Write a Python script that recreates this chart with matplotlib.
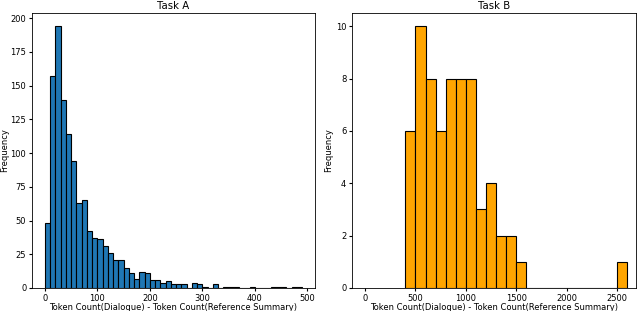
import numpy as np
import matplotlib.pyplot as plt

# Task A: counts per 10-token bin, 0..490
a_edges = np.arange(0, 500, 10)
a_counts = [48, 157, 194, 139, 114, 94, 63, 65, 42, 37,
            36, 31, 26, 21, 21, 15, 11, 7, 12, 11,
            6, 6, 4, 5, 3, 3, 3, 0, 4, 3,
            1, 0, 3, 0, 1, 1, 1, 0, 0, 1,
            0, 0, 0, 1, 1, 1, 0, 1, 1]

# Task B: counts per 100-token bin, 400..2600
b_edges = np.arange(400, 2700, 100)
b_counts = [6, 10, 8, 6, 8, 8, 8, 3, 4, 2, 2, 1,
            0, 0, 0, 0, 0, 0, 0, 0, 0, 1]

xlabel = 'Token Count(Dialogue) - Token Count(Reference Summary)'

plt.rcParams['font.size'] = 6.05
plt.rcParams['xtick.major.size'] = 2.5
plt.rcParams['ytick.major.size'] = 2.5
plt.rcParams['xtick.major.pad'] = 1.8
plt.rcParams['ytick.major.pad'] = 1.6

fig = plt.figure(figsize=(6.4, 3.11), dpi=100)
ax1 = fig.add_axes([0.05, 0.074, 0.442, 0.884])
ax2 = fig.add_axes([0.55, 0.074, 0.444, 0.884])

ax1.hist(a_edges[:-1], bins=a_edges, weights=a_counts,
         color='#1f77b4', edgecolor='black', linewidth=0.8)
ax1.set_title('Task A', pad=3)
ax1.set_xlabel(xlabel, labelpad=0)
ax1.set_ylabel('Frequency')
ax1.yaxis.set_label_coords(-0.08, 0.5)
ax1.set_xticks([0, 100, 200, 300, 400, 500])
ax1.set_yticks(range(0, 201, 25))

ax2.hist(b_edges[:-1], bins=b_edges, weights=b_counts,
         color='orange', edgecolor='black', linewidth=0.8)
ax2.set_title('Task B', pad=3)
ax2.set_xlabel(xlabel, labelpad=0)
ax2.set_ylabel('Frequency', labelpad=2)
ax2.set_xlim(-130, 2690)
ax2.set_xticks([0, 500, 1000, 1500, 2000, 2500])
ax2.set_yticks(range(0, 11, 2))

for ax in (ax1, ax2):
    for s in ax.spines.values():
        s.set_linewidth(0.6)

plt.savefig('out.png')
